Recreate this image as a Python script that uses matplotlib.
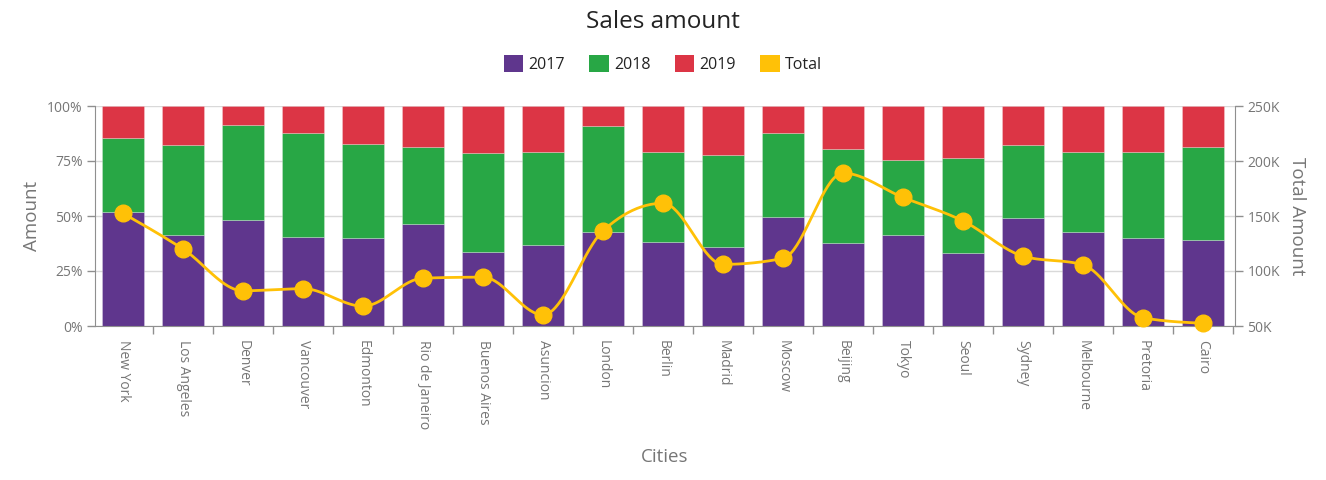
import numpy as np
import matplotlib
matplotlib.use("Agg")
import matplotlib.pyplot as plt
from matplotlib.patches import Patch
from matplotlib.ticker import MultipleLocator, FuncFormatter

plt.rcParams["font.family"] = ["Open Sans", "DejaVu Sans"]

# ---------------- data (thousands) ----------------
cities = ["New York", "Los Angeles", "Denver", "Vancouver", "Edmonton",
          "Rio de Janeiro", "Buenos Aires", "Asuncion", "London", "Berlin",
          "Madrid", "Moscow", "Beijing", "Tokyo", "Seoul", "Sydney",
          "Melbourne", "Pretoria", "Cairo"]
sales_2017 = [78.8, 49.7, 39.5, 33.8, 27.3, 43.4, 31.9, 22.1, 58.6, 61.9,
              38.3, 55.1, 71.6, 69.1, 48.0, 55.6, 45.3, 22.9, 20.5]
sales_2018 = [51.2, 49.1, 35.4, 39.8, 29.1, 32.8, 42.2, 25.3, 65.5, 65.6,
              44.1, 42.6, 80.7, 56.9, 63.3, 37.8, 38.0, 22.5, 22.3]
sales_2019 = [22.4, 21.2, 7.1, 10.4, 11.6, 17.3, 20.3, 12.7, 12.4, 34.1,
              23.6, 13.8, 36.7, 40.9, 34.2, 20.1, 22.3, 12.1, 9.7]
series_names = ["2017", "2018", "2019", "Total"]
colors = ["#5f368d", "#28a745", "#dc3545", "#ffc107"]

s17 = np.array(sales_2017)
s18 = np.array(sales_2018)
s19 = np.array(sales_2019)
total = s17 + s18 + s19
p17 = s17 / total * 100
p18 = s18 / total * 100
p19 = s19 / total * 100

W, H = 1326, 480
fig = plt.figure(figsize=(W / 100, H / 100), dpi=100)
ax = fig.add_axes([95 / W, 154 / H, 1140 / W, 220 / H])

x = np.arange(len(cities))
bw = 0.7
edge = (1, 1, 1, 0.35)
ax.bar(x, p17, width=bw, color=colors[0], edgecolor=edge, linewidth=0.5, zorder=2)
ax.bar(x, p18, width=bw, bottom=p17, color=colors[1], edgecolor=edge, linewidth=0.5, zorder=2)
ax.bar(x, p19, width=bw, bottom=p17 + p18, color=colors[2], edgecolor=edge, linewidth=0.5, zorder=2)

ax.set_xlim(-0.467, len(cities) - 0.467)
ax.set_ylim(0, 100)
ax.yaxis.set_major_locator(MultipleLocator(25))
ax.yaxis.set_major_formatter(FuncFormatter(lambda v, _: f"{v:.0f}%"))
ax.grid(axis="y", color="#d9d9d9", linewidth=1, zorder=0)
ax.set_axisbelow(True)

tick_c = "#767676"
spine_c = "#8f8f8f"
ax.set_xticks(x)
ax.set_xticklabels(cities, rotation=-90, ha="center", va="top")
ax.set_xticks(np.arange(0.5, len(cities), 1), minor=True)
ax.tick_params(axis="x", which="major", length=0, pad=10, labelsize=10,
               labelcolor=tick_c)
ax.tick_params(axis="x", which="minor", length=6, width=1, color=spine_c)
ax.tick_params(axis="y", length=6, width=1, color=spine_c, labelsize=10,
               labelcolor=tick_c, pad=3)
for s in ["top", "right"]:
    ax.spines[s].set_visible(False)
for s in ["left", "bottom"]:
    ax.spines[s].set_color(spine_c)
ax.set_ylabel("Amount", fontsize=13.5, color=tick_c, labelpad=4)
ax.set_xlabel("Cities", fontsize=13.5, color=tick_c)
ax.xaxis.set_label_coords(0.5, -0.555)

# ---------------- total line (secondary axis) ----------------
ax2 = ax.twinx()
ax2.set_ylim(50, 250)
ax2.yaxis.set_major_locator(MultipleLocator(50))
ax2.yaxis.set_major_formatter(FuncFormatter(lambda v, _: f"{v:.0f}K"))
ax2.tick_params(axis="y", length=6, width=1, color=spine_c, labelsize=10,
                labelcolor=tick_c, pad=3)
for s in ["top", "left", "bottom"]:
    ax2.spines[s].set_visible(False)
ax2.spines["right"].set_color(spine_c)
ax2.set_ylabel("Total Amount", fontsize=13.5, color=tick_c, rotation=-90,
               va="bottom", labelpad=6)


def monotone_curve(xs, ys, n=40):
    xs = np.asarray(xs, float)
    ys = np.asarray(ys, float)
    h = np.diff(xs)
    s = np.diff(ys) / h
    m = np.zeros_like(ys)
    for i in range(1, len(ys) - 1):
        s0, s1 = s[i - 1], s[i]
        p = (s0 * h[i] + s1 * h[i - 1]) / (h[i - 1] + h[i])
        m[i] = (np.sign(s0) + np.sign(s1)) * min(abs(s0), abs(s1), 0.5 * abs(p))
    m[0] = (3 * s[0] - m[1]) / 2
    m[-1] = (3 * s[-1] - m[-2]) / 2
    cx, cy = [], []
    for i in range(len(xs) - 1):
        t = np.linspace(0, 1, n)
        h00 = 2 * t**3 - 3 * t**2 + 1
        h10 = t**3 - 2 * t**2 + t
        h01 = -2 * t**3 + 3 * t**2
        h11 = t**3 - t**2
        cx.append(xs[i] + t * h[i])
        cy.append(h00 * ys[i] + h10 * h[i] * m[i] + h01 * ys[i + 1]
                  + h11 * h[i] * m[i + 1])
    return np.concatenate(cx), np.concatenate(cy)


cx, cy = monotone_curve(x, total)
ax2.plot(cx, cy, color=colors[3], linewidth=2, zorder=3, clip_on=False)
ax2.plot(x, total, "o", color=colors[3], markersize=12, zorder=4,
         clip_on=False)

# ---------------- title & legend ----------------
fig.text(0.5, 1 - 22 / H, "Sales amount", ha="center", va="center",
         fontsize=17.5, color="#232323")
handles = [Patch(facecolor=c, edgecolor="none") for c in colors]
fig.legend(handles, series_names, loc="center", ncol=4, frameon=False,
           bbox_to_anchor=(663 / W, 1 - 64 / H), fontsize=11.5,
           handlelength=1.22, handleheight=1.22, handletextpad=0.35,
           columnspacing=1.5, labelcolor="#232323")

fig.savefig("out.png", dpi=100)
